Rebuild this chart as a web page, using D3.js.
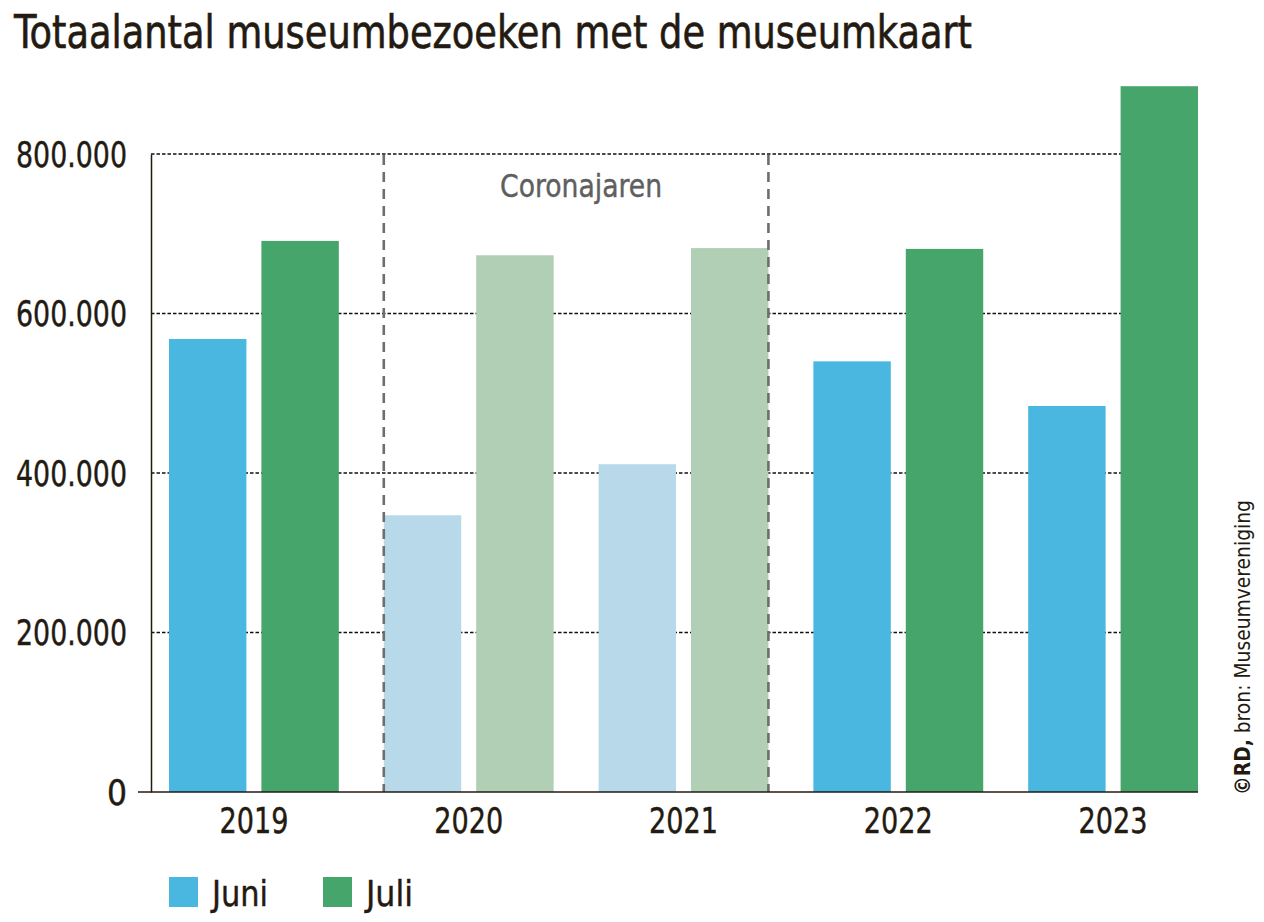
<!DOCTYPE html>
<html><head><meta charset="utf-8">
<script src="https://cdn.jsdelivr.net/npm/d3@7"></script>
<style>
body{margin:0;background:#fff;}
text{font-family:"Liberation Sans Narrow","DejaVu Sans Condensed","Roboto",sans-serif;}
</style></head>
<body><svg id="c" width="1264" height="922"></svg>
<script>
const years = ["2019","2020","2021","2022","2023"];
const months = ["Juni","Juli"];
const juni = [568000, 347000, 411000, 540000, 484000];
const juli = [691000, 673000, 682000, 681000, 885000];
const corona = ["2020","2021"];
const yTicks = [0, 200000, 400000, 600000, 800000];
const yTickLabels = ["0","200.000","400.000","600.000","800.000"];

const colors = {Juni:"#4ab7e0", Juli:"#46a56b"};
const light = {Juni:"#b8d9ea", Juli:"#b0cfb4"};
const ink = "#231a12";

const svg = d3.select("#c");
const y = d3.scaleLinear().domain([0,800000]).range([792,154]);
const x0 = d3.scaleBand().domain(years).range([146.5,1220.5]).paddingInner(45/215).paddingOuter(22.5/215);
const x1 = d3.scaleBand().domain(months).range([0,x0.bandwidth()]).paddingInner(15/92.5);

// title
svg.append("text").attr("x",14).attr("y",48).attr("font-size",46).attr("fill",ink)
  .attr("stroke",ink).attr("stroke-width",0.6)
  .attr("textLength",958).attr("lengthAdjust","spacingAndGlyphs")
  .text("Totaalantal museumbezoeken met de museumkaart");

// gridlines
svg.append("g").selectAll("line").data(yTicks.filter(d=>d>0)).join("line")
  .attr("x1",151).attr("x2",1198).attr("y1",d=>y(d)).attr("y2",d=>y(d))
  .attr("stroke","#111").attr("stroke-width",1.4).attr("stroke-dasharray","3.5,2");

// bars
const rows = years.map((yr,i)=>({year:yr, vals:[{m:"Juni",v:juni[i]},{m:"Juli",v:juli[i]}]}));
const g = svg.append("g").selectAll("g").data(rows).join("g")
  .attr("transform",d=>`translate(${x0(d.year)},0)`);
g.selectAll("rect").data(d=>d.vals.map(o=>({...o,year:d.year}))).join("rect")
  .attr("x",d=>x1(d.m)).attr("width",x1.bandwidth())
  .attr("y",d=>y(d.v)).attr("height",d=>y(0)-y(d.v))
  .attr("fill",d=>corona.includes(d.year)?light[d.m]:colors[d.m]);

// corona dashed lines
const cl = x0(corona[0]);
const cr = x0(corona[corona.length-1]) + x0.bandwidth();
svg.append("g").selectAll("line").data([cl,cr]).join("line")
  .attr("x1",d=>d).attr("x2",d=>d).attr("y1",155).attr("y2",792)
  .attr("stroke","#6e6e6e").attr("stroke-width",2.6).attr("stroke-dasharray","10,7");
svg.append("text").attr("x",(cl+cr)/2 + 5).attr("y",197).attr("text-anchor","middle")
  .attr("font-size",32).attr("fill","#5f5f5f").attr("stroke","#5f5f5f").attr("stroke-width",0.4)
  .attr("textLength",162).attr("lengthAdjust","spacingAndGlyphs")
  .text("Coronajaren");

// y axis
const yAxis = d3.axisLeft(y).tickValues(yTicks).tickFormat((d,i)=>yTickLabels[i]).tickSize(0).tickPadding(24);
const ya = svg.append("g").attr("transform","translate(151,0)").call(yAxis);
ya.select(".domain").attr("stroke",ink).attr("stroke-width",1.5);
ya.selectAll("text").attr("font-size",35).attr("fill",ink).attr("stroke",ink).attr("stroke-width",0.4).attr("dy","0.35em")
  .attr("font-family",'"Liberation Sans Narrow","DejaVu Sans Condensed","Roboto",sans-serif')
  .each(function(d,i){ if(d>0) d3.select(this).attr("textLength",111).attr("lengthAdjust","spacingAndGlyphs"); });

// x axis
const xAxis = d3.axisBottom(x0).tickSize(0).tickPadding(16);
const xa = svg.append("g").attr("transform","translate(0,792)").call(xAxis);
xa.select(".domain").remove();
svg.append("line").attr("x1",138).attr("x2",1198).attr("y1",792).attr("y2",792).attr("stroke",ink).attr("stroke-width",1.5);
xa.selectAll("text").attr("font-size",35).attr("fill",ink).attr("stroke",ink).attr("stroke-width",0.4)
  .attr("font-family",'"Liberation Sans Narrow","DejaVu Sans Condensed","Roboto",sans-serif')
  .attr("textLength",69).attr("lengthAdjust","spacingAndGlyphs");

// legend
const legX = [169, 323];
const lg = svg.append("g").selectAll("g").data(months).join("g")
  .attr("transform",(d,i)=>`translate(${legX[i]},877)`);
lg.append("rect").attr("width",29).attr("height",30).attr("fill",d=>colors[d]);
lg.append("text").attr("x",43).attr("y",29).attr("font-size",35).attr("fill",ink).attr("stroke",ink).attr("stroke-width",0.4)
  .attr("textLength",(d,i)=>[56,47][i]).attr("lengthAdjust","spacingAndGlyphs").text(d=>d);

// credit
const ct = svg.append("text").attr("transform","translate(1250,795) rotate(-90)")
  .attr("font-size",21).attr("fill",ink).attr("textLength",295).attr("lengthAdjust","spacingAndGlyphs");
ct.append("tspan").attr("font-weight","bold").text("©RD,");
ct.append("tspan").text(" bron: Museumvereniging");
</script></body></html>
